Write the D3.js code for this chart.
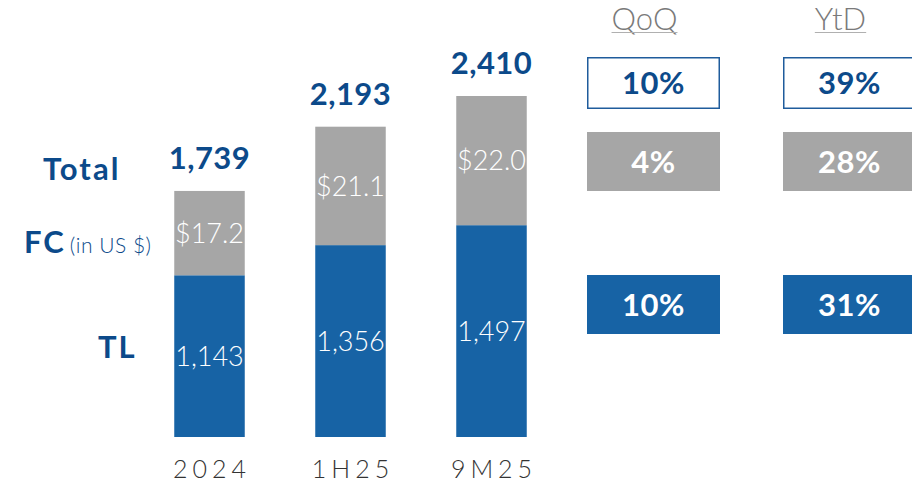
<!DOCTYPE html>
<html>
<head>
<meta charset="utf-8">
<script src="https://cdn.jsdelivr.net/npm/d3@7"></script>
<style>
  html, body { margin: 0; padding: 0; background: #fff; }
  svg { display: block; font-family: Lato, "Open Sans", sans-serif; }
</style>
</head>
<body>
<div id="root"></div>
<script>
// chart values
const categories = ['2024', '1H25', '9M25'];
const tlValues = [1143, 1356, 1497];
const totalValues = [1739, 2193, 2410];
const fcUsdLabels = ['$17.2', '$21.1', '$22.0'];

const growthHeaders = ['QoQ', 'YtD'];
const rowKeys = ['Total', 'FC', 'TL'];
const qoqGrowth = [10, 4, 10];
const ytdGrowth = [39, 28, 31];

const W = 912, H = 484;
const blue = '#1763a5', gray = '#a6a6a6', navy = '#0c4a8a';

const svg = d3.select('#root').append('svg')
  .attr('width', W)
  .attr('height', H);

const x = d3.scaleBand()
  .domain(categories)
  .range([139, 562])
  .paddingInner(0.5)
  .paddingOuter(0.25);

const y = d3.scaleLinear()
  .domain([0, d3.max(totalValues)])
  .range([437, 96]);

const rows = categories.map((c, i) => ({
  cat: c,
  tl: tlValues[i],
  fc: totalValues[i] - tlValues[i],
  total: totalValues[i],
  fcLabel: fcUsdLabels[i]
}));

const stack = d3.stack().keys(['tl', 'fc'])(rows);
const colors = { tl: blue, fc: gray };

// bars
svg.append('g').selectAll('g')
  .data(stack)
  .join('g')
  .attr('fill', d => colors[d.key])
  .selectAll('rect')
  .data(d => d)
  .join('rect')
  .attr('x', d => x(d.data.cat))
  .attr('y', d => y(d[1]))
  .attr('width', x.bandwidth())
  .attr('height', d => y(d[0]) - y(d[1]));

// values inside segments
const segLabel = (sel, fmt) => sel
  .attr('x', d => x(d.data.cat) + x.bandwidth() / 2)
  .attr('y', d => (y(d[0]) + y(d[1])) / 2)
  .attr('dy', '0.36em')
  .attr('text-anchor', 'middle')
  .attr('font-size', 27)
  .attr('font-weight', 300)
  .attr('fill', '#fff')
  .text(fmt);

svg.append('g').selectAll('text')
  .data(stack[0])
  .join('text')
  .call(segLabel, d => d3.format(',')(d.data.tl));

svg.append('g').selectAll('text')
  .data(stack[1])
  .join('text')
  .call(segLabel, d => d.data.fcLabel);

// totals above bars
svg.append('g').selectAll('text')
  .data(rows)
  .join('text')
  .attr('x', d => x(d.cat) + x.bandwidth() / 2)
  .attr('y', d => y(d.total) - 22)
  .attr('text-anchor', 'middle')
  .attr('font-size', 31)
  .attr('font-weight', 700)
  .attr('letter-spacing', 0.5)
  .attr('fill', navy)
  .text(d => d3.format(',')(d.total));

// category axis
svg.append('g').selectAll('text')
  .data(categories)
  .join('text')
  .attr('x', d => x(d) + x.bandwidth() / 2 + 2.5)
  .attr('y', 478)
  .attr('text-anchor', 'middle')
  .attr('font-size', 25)
  .attr('font-weight', 300)
  .attr('letter-spacing', 5)
  .attr('fill', '#333')
  .text(d => d);

// left row labels
svg.append('text')
  .attr('x', 43).attr('y', 180)
  .attr('font-size', 31).attr('font-weight', 700).attr('fill', navy)
  .attr('letter-spacing', 2)
  .text('Total');
const fc = svg.append('text')
  .attr('x', 24).attr('y', 253)
  .attr('font-size', 31).attr('font-weight', 700).attr('fill', navy);
fc.append('tspan').attr('letter-spacing', 2).text('FC');
fc.append('tspan')
  .attr('dx', 4)
  .attr('font-size', 21).attr('font-weight', 300)
  .attr('letter-spacing', 0.5)
  .text('(in US $)');
svg.append('text')
  .attr('x', 98).attr('y', 358)
  .attr('font-size', 31).attr('font-weight', 700).attr('fill', navy)
  .attr('letter-spacing', 2)
  .text('TL');

// growth panel
const colX = d3.scaleOrdinal().domain(growthHeaders).range([587, 783]);
const boxW = 133;
const rowTop = { Total: 57, FC: 132, TL: 275 };
const rowH = { Total: 52, FC: 59, TL: 59 };

const head = svg.append('g').selectAll('g')
  .data(growthHeaders)
  .join('g');
head.append('text')
  .attr('x', d => colX(d) + boxW / 2 - 9)
  .attr('y', 30)
  .attr('text-anchor', 'middle')
  .attr('font-size', 31)
  .attr('font-weight', 300)
  .attr('fill', '#7a7a7a')
  .text(d => d);
head.each(function(d) {
  const t = d3.select(this).select('text').node().getBBox();
  d3.select(this).append('line')
    .attr('x1', t.x).attr('x2', t.x + t.width)
    .attr('y1', 32.5).attr('y2', 32.5)
    .attr('stroke', '#b0b0b0').attr('stroke-width', 1);
});

const cells = [];
growthHeaders.forEach((h, c) => {
  const vals = c === 0 ? qoqGrowth : ytdGrowth;
  rowKeys.forEach((r, i) => cells.push({ col: h, row: r, v: vals[i] }));
});

const cell = svg.append('g').selectAll('g')
  .data(cells)
  .join('g');
cell.append('rect')
  .attr('x', d => colX(d.col) + (d.row === 'Total' ? 0.75 : 0))
  .attr('y', d => rowTop[d.row] + (d.row === 'Total' ? 0.75 : 0))
  .attr('width', d => boxW - (d.row === 'Total' ? 1.5 : 0))
  .attr('height', d => rowH[d.row] - (d.row === 'Total' ? 1.5 : 0))
  .attr('fill', d => d.row === 'Total' ? '#fff' : d.row === 'FC' ? gray : blue)
  .attr('stroke', d => d.row === 'Total' ? '#1f5c9c' : 'none')
  .attr('stroke-width', 1.5);
cell.append('text')
  .attr('x', d => colX(d.col) + boxW / 2)
  .attr('y', d => rowTop[d.row] + rowH[d.row] / 2)
  .attr('dy', '0.36em')
  .attr('text-anchor', 'middle')
  .attr('font-size', 31)
  .attr('font-weight', 700)
  .attr('letter-spacing', 0.5)
  .attr('fill', d => d.row === 'Total' ? navy : '#fff')
  .text(d => d.v + '%');
</script>
</body>
</html>
